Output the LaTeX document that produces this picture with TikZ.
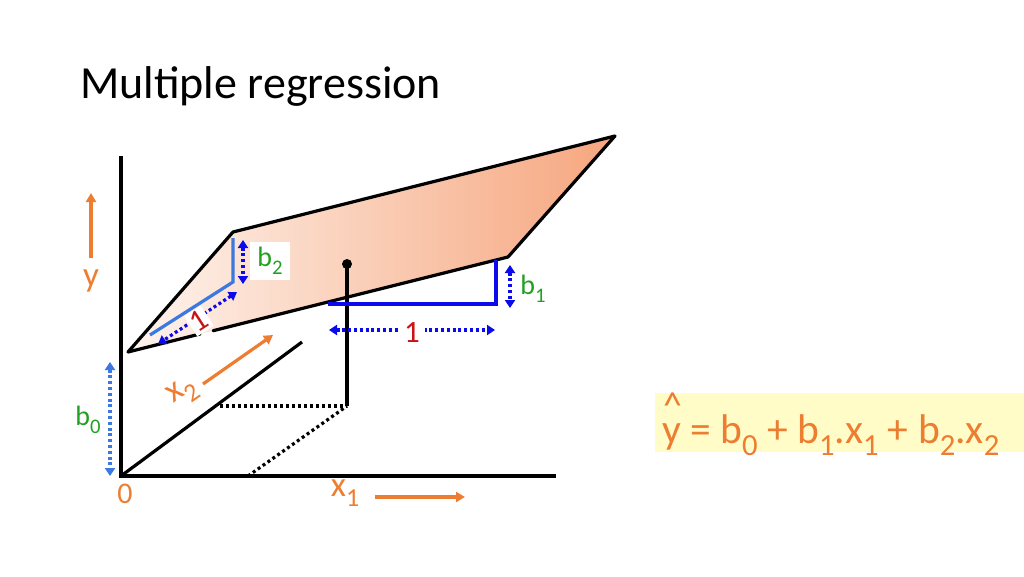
\documentclass[tikz,border=0pt]{standalone}
\usepackage{fontspec}
\setmainfont{Carlito}
\usetikzlibrary{arrows.meta,calc}
\definecolor{orng}{RGB}{237,125,49}
\definecolor{grn}{RGB}{34,160,34}
\definecolor{redd}{RGB}{200,20,20}
\definecolor{lblue}{RGB}{60,120,225}
\definecolor{pblue}{RGB}{10,10,235}
\definecolor{peachL}{RGB}{254,244,238}
\definecolor{peachR}{RGB}{246,166,126}
\definecolor{ylw}{RGB}{255,252,200}
\newcommand{\sbs}[1]{\raisebox{-0.3em}{\fontsize{0.74\dimexpr\fontdimen6\font\relax}{1em}\selectfont #1}}
\tikzset{
  axisline/.style={line width=3.2pt, black},
  dotline/.style={line width=3.2pt, black, dash pattern=on 3pt off 3pt},
  edge/.style={line width=3.2pt, black, line cap=round, line join=round},
  bluesolid/.style={line width=3.2pt},
  dotarrow/.style={line width=3.2pt, dash pattern=on 3pt off 2.8pt, {Triangle[length=8pt,width=10pt]}-{Triangle[length=8pt,width=10pt]}},
  orarrow/.style={line width=3.2pt, orng, -{Triangle[length=9pt,width=10pt]}},
  lbl/.style={inner sep=1pt, font=\fontsize{28}{30}\selectfont},
  axlbl/.style={inner sep=1pt, font=\fontsize{35}{37}\selectfont, text=orng},
  onelbl/.style={inner sep=2pt, font=\fontsize{31}{33}\selectfont, fill=white, text=redd},
}
\begin{document}
\begin{tikzpicture}[x=1pt,y=-1pt]
\useasboundingbox (0,0) rectangle (1024,576);
% title
\node[anchor=base west, inner sep=0pt, font=\fontsize{46}{50}\selectfont] (title) at (80,98) {Multiple regression};
% coordinates
\coordinate (O) at (121,476);
\coordinate (Ytop) at (121,156);
\coordinate (Xend) at (556,476);
\coordinate (Z2) at (302,342);
\coordinate (P) at (347,406);
\coordinate (Dt) at (347,264);
\coordinate (DL) at (220,406);
\coordinate (DX) at (248,476);
\coordinate (A) at (128,352);
\coordinate (B) at (233,232);
\coordinate (C) at (615,136);
\coordinate (D) at (508,257);
% axes
\draw[axisline] (Ytop) -- (O) -- (Xend);
\draw[axisline] (O) -- (Z2);
\draw[dotline] (DL) -- (P);
\draw[dotline] (DX) -- (P);
% plane
\shade[left color=peachL, right color=peachR] (A) -- (B) -- (C) -- (D) -- cycle;
\draw[edge] ($(A)!0.19!(D)$) -- (A) -- (B) -- (C) -- (D) -- ($(A)!0.224!(D)$);
% vertical to point
\draw[axisline] (P) -- (Dt);
\fill (Dt) circle (5pt);
% b2 construction
\coordinate (b2a) at (233,238);
\coordinate (b2b) at (233,282);
\coordinate (b2c) at (150,335);
\draw[bluesolid, lblue] (b2a) -- (b2b) -- (b2c);
\coordinate (b2u) at (243,240);
\coordinate (b2d) at (243,284);
\draw[dotarrow, pblue] (b2u) -- (b2d);
\coordinate (d1a) at (237,292);
\coordinate (d1b) at (158,344);
\draw[dotarrow, pblue] (d1a) -- (d1b);
\node[onelbl, rotate=33] (one2) at (199,321) {1};
\node[lbl, fill=white, text=grn, minimum width=40pt, minimum height=38pt] (b2l) at (270,261) {b\sbs{2}};
% b1 construction
\coordinate (b1a) at (328,304);
\coordinate (b1b) at (496,304);
\coordinate (b1c) at (496,260);
\draw[bluesolid, pblue] (b1a) -- (b1b) -- (b1c);
\coordinate (b1u) at (510,265);
\coordinate (b1d) at (510,308);
\draw[dotarrow, pblue] (b1u) -- (b1d);
\node[lbl, text=grn] (b1l) at (533,289) {b\sbs{1}};
\coordinate (h1a) at (329,330);
\coordinate (h1b) at (495,330);
\draw[dotarrow, pblue] (h1a) -- (h1b);
\node[onelbl, inner xsep=5pt] (one1) at (412,333) {1};
% b0
\coordinate (b0u) at (110,362);
\coordinate (b0d) at (110,476);
\draw[dotarrow, lblue] (b0u) -- (b0d);
\node[lbl, text=grn] (b0l) at (88,420) {b\sbs{0}};
% axis labels and arrows
\node[axlbl] (ylab) at (91,281) {y};
\coordinate (ya) at (91,258);
\coordinate (yb) at (91,193);
\draw[orarrow] (ya) -- (yb);
\node[axlbl, rotate=35] (x2lab) at (183,393) {x\sbs{2}};
\coordinate (x2a) at (203,384);
\coordinate (x2b) at (273,335);
\draw[orarrow] (x2a) -- (x2b);
\node[lbl, text=orng, font=\fontsize{30}{32}\selectfont] (zero) at (125,494) {0};
\node[axlbl] (x1lab) at (345,493) {x\sbs{1}};
\coordinate (x1a) at (375,497);
\coordinate (x1b) at (465,497);
\draw[orarrow] (x1a) -- (x1b);
% equation
\fill[ylw] (655,393) rectangle (1024,452);
\node[anchor=base west, inner sep=0pt, text=orng, font=\fontsize{41.5}{44}\selectfont] (eq) at (662,443)
  {\makebox[0pt][l]{\raisebox{0.6em}{\hspace{0.02em}\fontsize{38}{38}\selectfont\^{}}}y = b\sbs{0} + b\sbs{1}.x\sbs{1} + b\sbs{2}.x\sbs{2}};
\end{tikzpicture}
\end{document}
